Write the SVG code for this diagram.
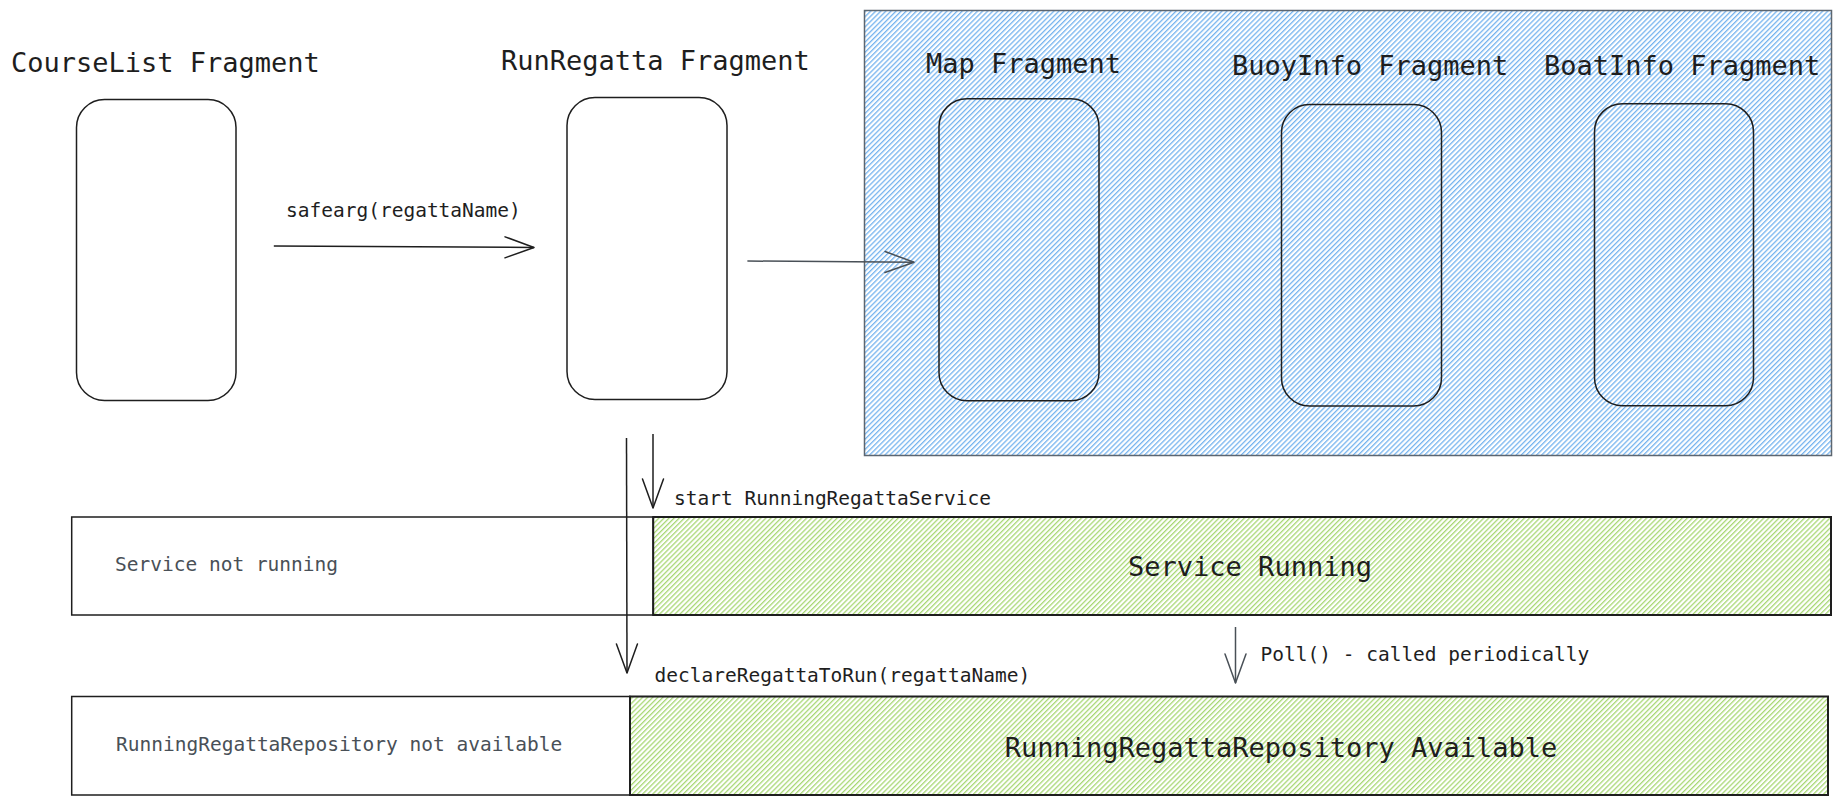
<svg xmlns="http://www.w3.org/2000/svg" width="1842" height="805" viewBox="0 0 1842 805">
<style>
.bg{fill:#ffffff}
.frag{fill:none;stroke:#1e1e1e;stroke-width:1.5}
.title{font-family:"DejaVu Sans Mono","Liberation Mono",monospace;font-size:27px;fill:#1e1e1e}
.label{font-family:"DejaVu Sans Mono","Liberation Mono",monospace;font-size:19.5px;fill:#1e1e1e}
.muted{fill:#495057}
.conn{fill:none;stroke:#1e1e1e;stroke-width:1.5}
.conn-gray{fill:none;stroke:#495057;stroke-width:1.5}
.row{stroke:#1e1e1e;stroke-width:1.5}
.row-on{stroke:#1e1e1e;stroke-width:2}
</style>
<defs>
<pattern id="hatchBlue" patternUnits="userSpaceOnUse" width="3.6" height="10" patternTransform="rotate(45)">
<rect x="0" y="0" width="3.6" height="10" fill="#ffffff"/>
<rect x="0" y="0" width="1.3" height="10" fill="#74b3ef"/>
</pattern>
<pattern id="hatchGreen" patternUnits="userSpaceOnUse" width="3.6" height="10" patternTransform="rotate(45)">
<rect x="0" y="0" width="3.6" height="10" fill="#ffffff"/>
<rect x="0" y="0" width="1.3" height="10" fill="#a8d874"/>
</pattern>
<marker id="arrowBlack" viewBox="0 0 32 24" refX="30" refY="12" markerWidth="32" markerHeight="24" markerUnits="userSpaceOnUse" orient="auto">
<path d="M1,1.5 L30,12 L1,22.5" fill="none" stroke="#1e1e1e" stroke-width="1.5" stroke-linecap="round" stroke-linejoin="round"/>
</marker>
<marker id="arrowGray" viewBox="0 0 32 24" refX="30" refY="12" markerWidth="32" markerHeight="24" markerUnits="userSpaceOnUse" orient="auto">
<path d="M1,1.5 L30,12 L1,22.5" fill="none" stroke="#495057" stroke-width="1.5" stroke-linecap="round" stroke-linejoin="round"/>
</marker>
</defs>
<rect class="bg" x="0" y="0" width="1842" height="805"/>

<g id="detail-container">
<rect x="864.5" y="10.5" width="967" height="445" fill="url(#hatchBlue)" stroke="#5c6670" stroke-width="1.5"/>
</g>

<g id="courselist-fragment">
<text class="title" x="11" y="72">CourseList Fragment</text>
<rect class="frag" x="76.5" y="99.5" width="159.5" height="301" rx="28" ry="28"/>
</g>

<g id="runregatta-fragment">
<text class="title" x="501" y="70">RunRegatta Fragment</text>
<rect class="frag" x="567" y="97.5" width="160" height="302" rx="28" ry="28"/>
</g>

<g id="map-fragment">
<text class="title" x="926" y="73">Map Fragment</text>
<rect class="frag" x="939" y="98.7" width="160" height="302" rx="28" ry="28"/>
</g>

<g id="buoyinfo-fragment">
<text class="title" x="1232" y="75">BuoyInfo Fragment</text>
<rect class="frag" x="1281.5" y="104.5" width="160" height="301.5" rx="28" ry="28"/>
</g>

<g id="boatinfo-fragment">
<text class="title" x="1544" y="75">BoatInfo Fragment</text>
<rect class="frag" x="1594.5" y="103.7" width="159" height="302" rx="28" ry="28"/>
</g>

<g id="service-row">
<rect class="row" x="71.7" y="517" width="581.5" height="98" fill="#ffffff"/>
<rect class="row-on" x="653.2" y="517" width="1177.8" height="98" fill="url(#hatchGreen)"/>
<text class="label muted" x="115" y="571">Service not running</text>
<text class="title" x="1250" y="576" text-anchor="middle">Service Running</text>
</g>

<g id="repository-row">
<rect class="row" x="71.7" y="696.5" width="558.3" height="98.5" fill="#ffffff"/>
<rect class="row-on" x="630" y="696.5" width="1198" height="98.5" fill="url(#hatchGreen)"/>
<text class="label muted" x="116" y="751">RunningRegattaRepository not available</text>
<text class="title" x="1281" y="757" text-anchor="middle">RunningRegattaRepository Available</text>
</g>

<g id="connectors">
<path class="conn" d="M273.8,246 L534,247.5" marker-end="url(#arrowBlack)"/>
<text class="label" x="286" y="217">safearg(regattaName)</text>
<path class="conn-gray" d="M747.4,261 L914,262.3" marker-end="url(#arrowGray)"/>
<path class="conn" d="M653,434 L653,508" marker-end="url(#arrowBlack)"/>
<text class="label" x="674" y="505">start RunningRegattaService</text>
<path class="conn" d="M626.5,438 L627,673" marker-end="url(#arrowBlack)"/>
<text class="label" x="654.5" y="681.5">declareRegattaToRun(regattaName)</text>
<path class="conn-gray" d="M1235.5,627 L1235.5,683" marker-end="url(#arrowGray)"/>
<text class="label" x="1260.5" y="661">Poll() - called periodically</text>
</g>
</svg>
